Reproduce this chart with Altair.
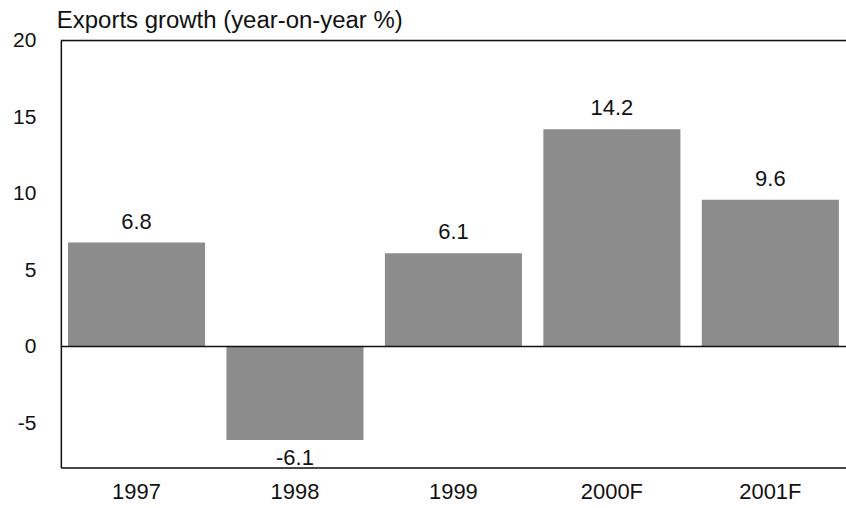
import altair as alt
import pandas as pd

years = ["1997", "1998", "1999", "2000F", "2001F"]
growth = [6.8, -6.1, 6.1, 14.2, 9.6]
labels = ["6.8", "-6.1", "6.1", "14.2", "9.6"]
y_ticks = [-5, 0, 5, 10, 15, 20]
title_text = "Exports growth (year-on-year %)"

df = pd.DataFrame({"year": years, "growth": growth, "label": labels})

FONT = "Liberation Sans"

x = alt.X("year:N", sort=years, title=None,
          scale=alt.Scale(paddingInner=0.135, paddingOuter=0.045),
          axis=alt.Axis(labelAngle=0, labelFontSize=22, labelFont=FONT, labelColor="#111",
                        ticks=False, labelPadding=14, domainColor="#111", domainWidth=1.5))
y = alt.Y("growth:Q", title=None,
          scale=alt.Scale(domain=[-7.9, 20], nice=False, zero=False),
          axis=alt.Axis(values=y_ticks, labelFontSize=21, labelFont=FONT, labelColor="#111",
                        labelExpr="toString(datum.value)",
                        ticks=False, labelPadding=25, grid=False, domainColor="#111", domainWidth=1.5))

base = alt.Chart(df)

bars = base.mark_bar(color="#8c8c8c").encode(x=x, y=y, y2=alt.datum(0))

pos_text = base.transform_filter("datum.growth >= 0").mark_text(
    baseline="bottom", dy=-9, fontSize=22, font=FONT, color="#111"
).encode(x=alt.X("year:N", sort=years), y="growth:Q", text="label:N")

neg_text = base.transform_filter("datum.growth < 0").mark_text(
    baseline="top", dy=8, fontSize=22, font=FONT, color="#111"
).encode(x=alt.X("year:N", sort=years), y="growth:Q", text="label:N")

zero_rule = alt.Chart(pd.DataFrame({"v": [0]})).mark_rule(color="#111", strokeWidth=1.5).encode(y="v:Q")
top_rule = alt.Chart(pd.DataFrame({"v": [20]})).mark_rule(color="#111", strokeWidth=1.5).encode(y="v:Q")

chart = alt.layer(bars, zero_rule, top_rule, pos_text, neg_text).properties(
    width=787, height=428,
    padding={"left": 61, "top": 40, "right": 0, "bottom": 40},
    autosize="none",
    title=alt.TitleParams(title_text, fontSize=24, font=FONT, fontWeight="normal", color="#111",
                          anchor="start", frame="group", offset=9, dx=-4, dy=12),
).configure_view(stroke=None).configure(background="white")

chart.save("out.html", embed_options={"renderer": "svg", "actions": False})
